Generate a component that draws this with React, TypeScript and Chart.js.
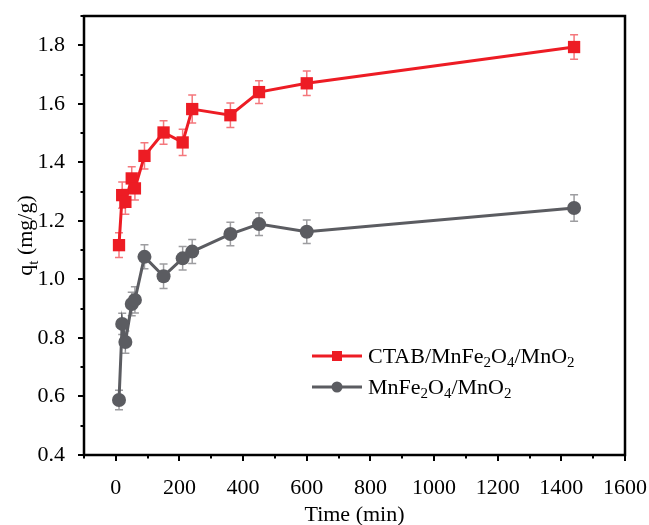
import { useEffect, useRef } from "react";
import { Chart, registerables } from "chart.js";

Chart.register(...registerables);

// Contact time (min)
const times = [10, 20, 30, 50, 60, 90, 150, 210, 240, 360, 450, 600, 1440];

// Adsorption capacity q_t (mg/g) and error bars
const ctabValues = [1.117, 1.288, 1.265, 1.345, 1.311, 1.422, 1.502, 1.468, 1.582, 1.561, 1.64, 1.67, 1.794];
const ctabErrors = [0.042, 0.045, 0.042, 0.04, 0.04, 0.045, 0.04, 0.045, 0.048, 0.042, 0.039, 0.042, 0.042];
const plainValues = [0.588, 0.848, 0.786, 0.916, 0.93, 1.077, 1.011, 1.072, 1.095, 1.155, 1.189, 1.163, 1.244];
const plainErrors = [0.033, 0.036, 0.038, 0.04, 0.045, 0.041, 0.042, 0.04, 0.041, 0.04, 0.039, 0.04, 0.045];

// Legend labels split into [text, isSubscript] runs
const ctabLabel: [string, boolean][] = [["CTAB/MnFe", false], ["2", true], ["O", false], ["4", true], ["/MnO", false], ["2", true]];
const plainLabel: [string, boolean][] = [["MnFe", false], ["2", true], ["O", false], ["4", true], ["/MnO", false], ["2", true]];
const yTitle: [string, boolean][] = [["q", false], ["t", true], [" (mg/g)", false]];
const xTitle = "Time (min)";

const xTicks = [0, 200, 400, 600, 800, 1000, 1200, 1400, 1600];
const xMinorTicks = [-100, 100, 300, 500, 700, 900, 1100, 1300, 1500];
const yTicks = [0.4, 0.6, 0.8, 1.0, 1.2, 1.4, 1.6, 1.8];
const yMinorTicks = [0.5, 0.7, 0.9, 1.1, 1.3, 1.5, 1.7, 1.9];

const RED = "#ED1C24";
const GRAY = "#5B5C61";
const FONT = "'Liberation Serif', 'Times New Roman', serif";

function drawRuns(ctx: CanvasRenderingContext2D, runs: [string, boolean][], x: number, y: number, size: number) {
  let cx = x;
  for (const [text, sub] of runs) {
    const fs = sub ? Math.round(size * 0.68) : size;
    ctx.font = `${fs}px ${FONT}`;
    ctx.fillText(text, cx, sub ? y + size * 0.28 : y);
    cx += ctx.measureText(text).width;
  }
  return cx - x;
}

function runsWidth(ctx: CanvasRenderingContext2D, runs: [string, boolean][], size: number) {
  let w = 0;
  for (const [text, sub] of runs) {
    const fs = sub ? Math.round(size * 0.68) : size;
    ctx.font = `${fs}px ${FONT}`;
    w += ctx.measureText(text).width;
  }
  return w;
}

const decorPlugin = {
  id: "decor",
  beforeDatasetsDraw(chart: any) {
    const ctx = chart.ctx as CanvasRenderingContext2D;
    const ys = chart.scales.y;
    const sets = [
      { vals: ctabValues, errs: ctabErrors, color: "rgba(237,28,36,0.6)" },
      { vals: plainValues, errs: plainErrors, color: "rgba(91,92,97,0.6)" },
    ];
    ctx.save();
    ctx.lineWidth = 1.5;
    sets.forEach((s, di) => {
      const meta = chart.getDatasetMeta(di);
      ctx.strokeStyle = s.color;
      meta.data.forEach((pt: any, i: number) => {
        const x = pt.x;
        const y1 = ys.getPixelForValue(s.vals[i] + s.errs[i]);
        const y2 = ys.getPixelForValue(s.vals[i] - s.errs[i]);
        ctx.beginPath();
        ctx.moveTo(x, y1);
        ctx.lineTo(x, y2);
        ctx.moveTo(x - 4, y1);
        ctx.lineTo(x + 4, y1);
        ctx.moveTo(x - 4, y2);
        ctx.lineTo(x + 4, y2);
        ctx.stroke();
      });
    });
    ctx.restore();
  },
  afterDraw(chart: any) {
    const ctx = chart.ctx as CanvasRenderingContext2D;
    const a = chart.chartArea;
    const xs = chart.scales.x;
    const ys = chart.scales.y;
    ctx.save();
    // frame
    ctx.strokeStyle = "#000";
    ctx.lineWidth = 2.5;
    ctx.strokeRect(a.left, a.top, a.right - a.left, a.bottom - a.top);
    // tick marks (outward)
    ctx.lineWidth = 2;
    ctx.beginPath();
    xTicks.forEach((v) => {
      const x = Math.round(xs.getPixelForValue(v));
      ctx.moveTo(x, a.bottom);
      ctx.lineTo(x, a.bottom + 6);
    });
    xMinorTicks.forEach((v) => {
      const x = Math.round(xs.getPixelForValue(v));
      ctx.moveTo(x, a.bottom);
      ctx.lineTo(x, a.bottom + 3.5);
    });
    yTicks.forEach((v) => {
      const y = Math.round(ys.getPixelForValue(v));
      ctx.moveTo(a.left, y);
      ctx.lineTo(a.left - 6, y);
    });
    yMinorTicks.forEach((v) => {
      const y = Math.round(ys.getPixelForValue(v));
      ctx.moveTo(a.left, y);
      ctx.lineTo(a.left - 3.5, y);
    });
    ctx.stroke();

    // axis titles
    ctx.fillStyle = "#000";
    ctx.textBaseline = "alphabetic";
    ctx.textAlign = "center";
    ctx.font = `22px ${FONT}`;
    ctx.fillText(xTitle, (a.left + a.right) / 2, 521);
    ctx.textAlign = "left";
    ctx.save();
    ctx.translate(32, (a.top + a.bottom) / 2);
    ctx.rotate(-Math.PI / 2);
    const tw = runsWidth(ctx, yTitle, 22);
    drawRuns(ctx, yTitle, -tw / 2, 0, 22);
    ctx.restore();

    // legend
    const entries = [
      { runs: ctabLabel, color: RED, y: 356, shape: "rect" },
      { runs: plainLabel, color: GRAY, y: 387, shape: "circle" },
    ];
    entries.forEach((e) => {
      ctx.strokeStyle = e.color;
      ctx.fillStyle = e.color;
      ctx.lineWidth = 3;
      ctx.beginPath();
      ctx.moveTo(312, e.y);
      ctx.lineTo(362, e.y);
      ctx.stroke();
      ctx.beginPath();
      if (e.shape === "rect") ctx.rect(337 - 5, e.y - 5, 10, 10);
      else ctx.arc(337, e.y, 5.5, 0, Math.PI * 2);
      ctx.fill();
      ctx.fillStyle = "#000";
      ctx.textBaseline = "middle";
      drawRuns(ctx, e.runs, 368, e.y + 1, 22);
    });
    ctx.restore();
  },
};

const zeroPadding = (s: any) => {
  s.paddingTop = 0;
  s.paddingBottom = 0;
  s.paddingLeft = 0;
  s.paddingRight = 0;
};

export default function App() {
  const ref = useRef<HTMLCanvasElement | null>(null);
  useEffect(() => {
    if (!ref.current) return;
    const chart = new Chart(ref.current, {
      type: "line",
      data: {
        datasets: [
          {
            label: "CTAB/MnFe2O4/MnO2",
            data: times.map((t, i) => ({ x: t, y: ctabValues[i] })),
            borderColor: RED,
            backgroundColor: RED,
            borderWidth: 3,
            pointStyle: "rect",
            pointRadius: 8.7,
            pointBorderWidth: 0,
            tension: 0,
          },
          {
            label: "MnFe2O4/MnO2",
            data: times.map((t, i) => ({ x: t, y: plainValues[i] })),
            borderColor: GRAY,
            backgroundColor: GRAY,
            borderWidth: 3,
            pointStyle: "circle",
            pointRadius: 7,
            pointBorderWidth: 0,
            tension: 0,
          },
        ],
      },
      options: {
        responsive: false,
        animation: false,
        layout: { padding: { top: 16, right: 24, left: 0, bottom: 0 } },
        plugins: { legend: { display: false }, tooltip: { enabled: false } },
        scales: {
          x: {
            type: "linear",
            min: -100,
            max: 1600,
            grid: { display: false },
            border: { display: false },
            afterBuildTicks: (s: any) => {
              s.ticks = xTicks.map((v) => ({ value: v }));
            },
            afterFit: (s: any) => {
              s.height = 70;
              zeroPadding(s);
            },
            ticks: {
              color: "#000",
              font: { family: FONT, size: 22 },
              padding: 12,
              maxRotation: 0,
              autoSkip: false,
              callback: (v: any) => String(v),
            },
          },
          y: {
            type: "linear",
            min: 0.4,
            max: 1.9,
            grid: { display: false },
            border: { display: false },
            afterBuildTicks: (s: any) => {
              s.ticks = yTicks.map((v) => ({ value: v }));
            },
            afterFit: (s: any) => {
              s.width = 84;
              zeroPadding(s);
            },
            ticks: {
              color: "#000",
              font: { family: FONT, size: 22 },
              padding: 11,
              autoSkip: false,
              callback: (v: any) => Number(v).toFixed(1),
            },
          },
        },
      },
      plugins: [decorPlugin],
    } as any);
    return () => chart.destroy();
  }, []);
  return (
    <div style={{ position: "absolute", left: 0, top: 0, width: 649, height: 525, background: "#fff" }}>
      <canvas ref={ref} width={649} height={525} />
    </div>
  );
}
